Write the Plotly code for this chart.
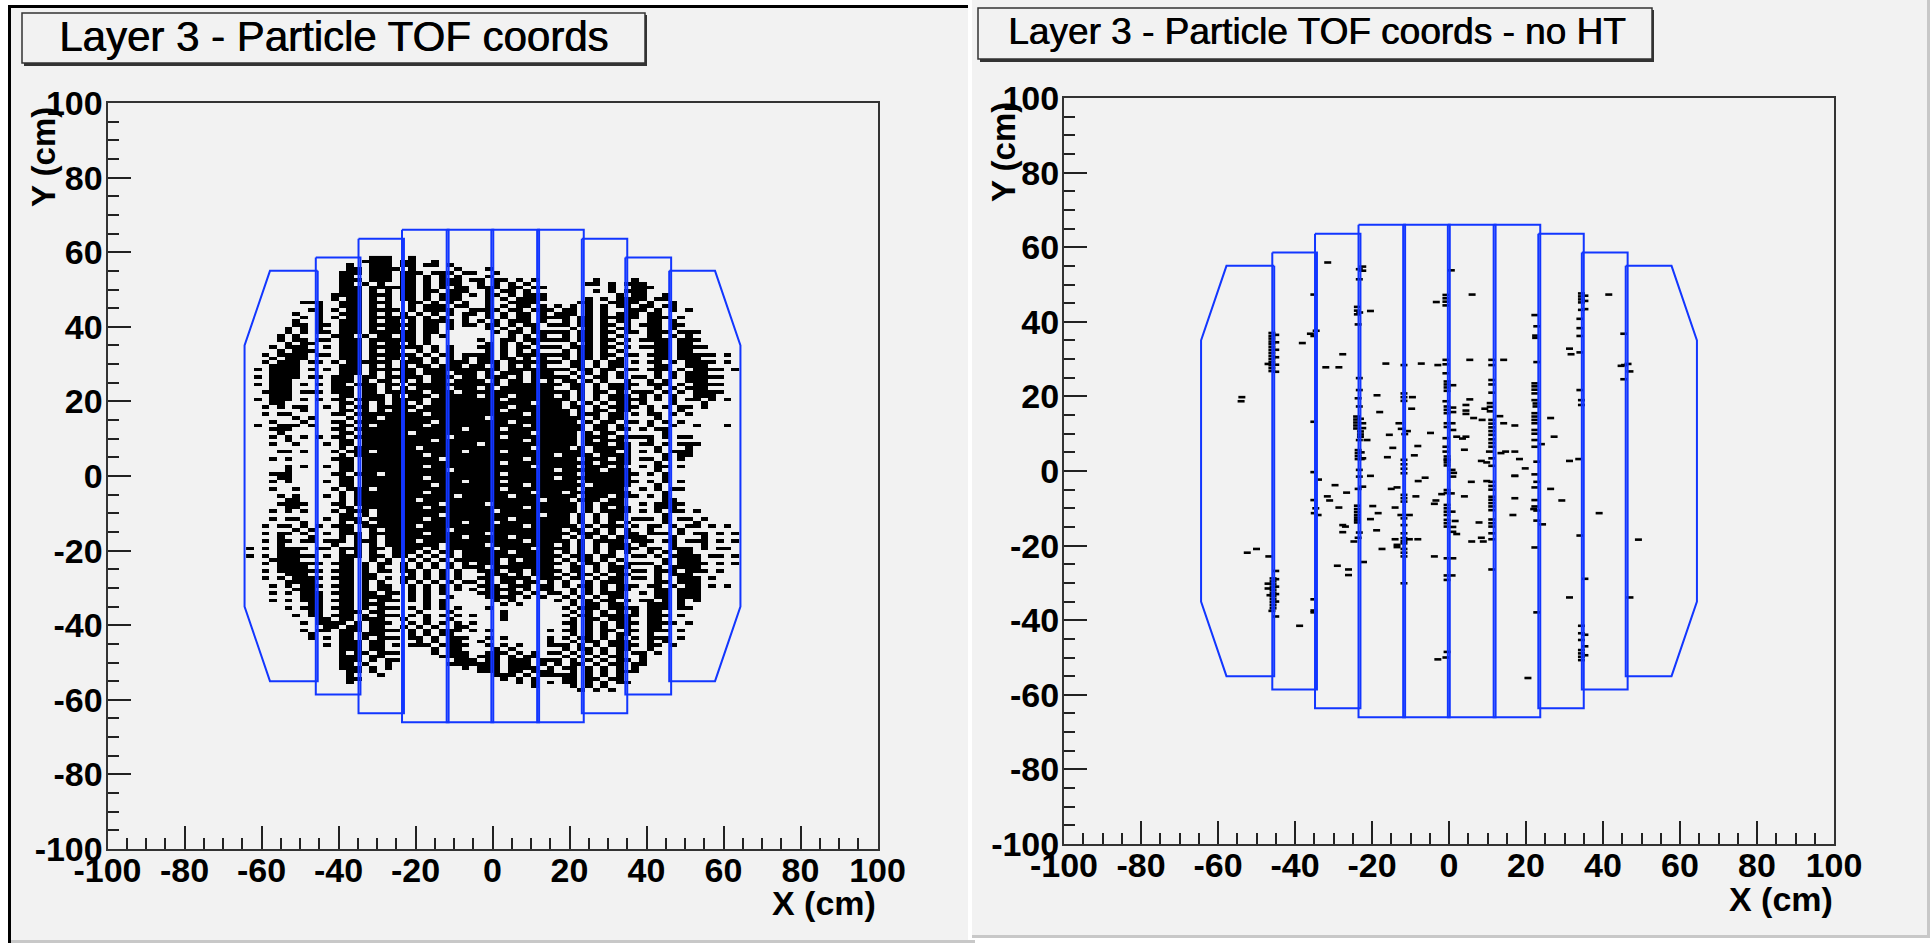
import plotly.graph_objects as go

W, H = 1930, 943

# ---- Data ----
tick_vals = [-100, -80, -60, -40, -20, 0, 20, 40, 60, 80, 100]
tick_text = ["-100", "-80", "-60", "-40", "-20", "0", "20", "40", "60", "80", "100"]
minor_vals = [v for v in range(-95, 100, 5) if v % 20 != 0]

paddle_xs = [
    [-45.4, -57.8, -64.4, -64.4, -57.8, -45.4, -45.4],
    [-45.9, -34.3, -34.3, -45.9, -45.9],
    [-34.8, -23.0, -23.0, -34.8, -34.8],
    [-23.5, -11.4, -11.4, -23.5, -23.5],
    [-11.9, 0.2, 0.2, -11.9, -11.9],
    [-0.3, 12.1, 12.1, -0.3, -0.3],
    [11.6, 23.7, 23.7, 11.6, 11.6],
    [23.2, 35.0, 35.0, 23.2, 23.2],
    [34.5, 46.4, 46.4, 34.5, 34.5],
    [45.9, 57.8, 64.4, 64.4, 57.8, 45.9, 45.9],
]
paddle_ys = [
    [55, 55, 35, -35, -55, -55, 55],
    [58.6, 58.6, -58.6, -58.6, 58.6],
    [63.6, 63.6, -63.6, -63.6, 63.6],
    [66, 66, -66, -66, 66],
    [66, 66, -66, -66, 66],
    [66, 66, -66, -66, 66],
    [66, 66, -66, -66, 66],
    [63.6, 63.6, -63.6, -63.6, 63.6],
    [58.6, 58.6, -58.6, -58.6, 58.6],
    [55, 55, 35, -35, -55, -55, 55],
]

# occupied 2 cm x 1 cm cells, left panel; first row is y = 58..59, next one lower; columns start at x = -64
occupancy_rows = [
".......... ......###. .#.",
".......... .....####. ##..#",
".......... ...#..###. ##.##.#",
".......... ...##.#### .#.....#.. .#",
".......... ..###.###. ###.###.## ..#",
".......... ..##..###. ##.#.#.#.. .#...",
".......... ..###.###. ##.#.###.# #.##.#.#.. .....#.... #",
".......... ..##.#.#.. ##.#.###.. #.#.#.#... ....##.#.# ##",
".......... ..###.#### ##.#.#.##. ###.##.##. .......#.. ###",
".......... ..###.#.#. ##.##.###. .#.##.#... .....#.#.# ##",
".......... .####.###. ##.#.###.# .##.#.###. ........#. ##..#",
".......... .#.##.#.#. ##.#.###.. .#.#.####. ....#.#.## ##.##",
".......### ..###.###. .##.#.#.#. .#..####.. ...##..### #.#..#",
".........# ..###.#.#. .#.###.##. .#.#.##.#. #.#.#.#.## .##.##",
"........## .#.##.#### .#.####..# ###.##.### .##.#.#..# ##.#.#.#",
"......#..# ..###.#.#. #.#.#.#.## .#.#.##.#. ###.#.#.## #.##..",
".......#.# .#.##.#### ##.#.#..#. .#.#.##.## ##.##.#### #.###.#.",
"......#..# ..###.#.## .#.####.#. #.#.###.#. .#.##.#.## ..##.#.",
"......##.# #.###.#### ##.##.#.## .##.#.##.# ##.##.##.# .###.##",
".....#.#.# ..###.#.## .#.##.#... .#.#.#.#.. ..#.#.#.## ..##.#..",
".....#.#.# #.###.#### ##.##..... ..#.##.### ##.##.##.# #.###.###",
"....#.#... .###.#.## .##.#.#.... ....#.#.#. .#.##.#.#. ..##.#.#",
"....#.##.# #.###.#### ##.#...... #..##.#### ##.##.##.# .####.###",
".....#.##. ..###.#.## .#.#...... .#.#.#.#.. ..#.#.#.#. ...##.##",
"...#.###.. #.###.#### ###.#.#... ##.#.##.## #.###.##.# .####.####",
"....#.###. ..###.#.## ..#.#.#... .#.#.#.#.. .#.##.#.#. ...##.##",
"..#.####.# #.###.#### ##.#.##.## ##.#.##### ##.##.##.# #.###.#####.#",
"...#.###.. ..###.#.## .##.#.#.#. ##.##.#.#. .#.##.#.#. ...##.###",
"..#.###.## .#.######. ###.#.###. ###.###### #.##.#.##. #.##.#.####.#",
"...####... ..###.#.#. #.##.###.# #.#.#.#.#. ..##.#.##. ...##..###",
".#.####.#. #.###.#### ##.####### ###.###### ##.##.##.# #.###.#.####.#",
"...####... ..###.#.#. ##.###.### .#.###.### ..#.#.#.#. ...#.#.###",
".#.####.## .###.##.## ###.###.## .###.#.### ##.#.##.#. ##.#.#.#####.",
"...###.... .###.#.##. #.#.##.### #.#.##.#.# .##.#.#..# ..#.#..###",
".#.###.#.# .##.###.## .######### ###.###### #.##.#.### #.###.#.####.",
"...###.... .###.##.#. #.####.### .#.####### ..##.#.### ...#.#.###",
"..####.### .###.##.## ###.###.## ########## ##.#.##.#. ###.#.#.####",
"...###.... ..##.###.# .###.##### .###.##### .#.#.#.### .#.#.#..###",
".#.###.#.# .##.####.# ###.###### ###.###### ##.#.#.### ##.#.#.##.#.#",
"...##..... ..##.#.#.# #.#.###### #######.## #.#.#.#.## .#...#...#",
"..#.#.##.. #.#.##.### ##.####### ####.##### #.##.#.### #.#.#.##.#",
".......#.. ..##.#.#.# #.######## ###.###### ##.#.##.## ..#...#",
"..#.##.... .##.###### ###.###### ######.### ##.###.##. #.##.#.#",
"......#.#. ...#.##.## ########## #.######## ####.#.##. ...#...",
"...#...#.. .##.###### ####.##### ####.##### ###.#.##.# #.#.#.#.",
".#..###.#. ..##.#.### ###.###### ######.### ####.##.#. ..#..#..#...#",
"...###.... .##.###### ########.# ###.###### ####.##.## .#.##.",
"....#..... ..##.##### #.######## #######.## ###.#.##.. ....#.",
"...#.#.#.# .##.###### ######.### ###.###### ###.###.## ###.#.##",
".....#.... ..##.##### ####.##### ######.### ###.#.###. ..#..",
"...#..#... #.##.##### ########## .######### ###.###.## .##.#.###",
".......... ..#.###### ##.####### #######.## ##.#.##### ...#...#",
"....##.#.. .#.###.### ########.# ###.###### ####.###.# .#.#.###",
".......... ..#.###### ###.###### ########## .####.#### ....#.##",
"...#.#.... .###.##### #####.#### ######.### ###.###.## .##.#.#",
".......... ..##.##### ########## ###.###### #####.#### ...#.",
".....#.#.. #.##.##### ###.###### #######.## ###.###.#. .#.##.#",
".....#.... ..##.##### ######.### ########## .#####.### ...#..",
"...###.... .##.###.## ########## ###.###### ###.###### #.#.#",
"....##.... ..##.##### ###.###### ########## .######### ....#",
"...#.#.... #.##.##### ########.# ###.###### ###.###### #.#.#.#",
".......... ..##.##### ####.##### ######.### ####.##### ...#..",
"...#..#... .#.###.### ########## ###.###### ###.#####. .#.#.##",
".......... ..#.###### ###.###### #######.## #.######## ....#",
"....#.#... #.#.###### #######.## ####.##### ###.###.## #.#.#.",
".....##... ..#.###### ##.####### ########.# ##.###.##. ....##",
"....####.. .##.###### #####.#### #.######## ###.#.###. .#.####",
".....##... ..##.##### ###.###### ######.### ###.#.#.## ...###",
"...#.#.#.. .#.###.### ########## ##.####### ###.#.#### .#.#.##.#",
".......... ..##.#.### #####.#### ########.# ##.#.#.##. ....#.",
"...#.##... #.###.#### ###.###### ####.##### ##.#.#.##. ###.#.##.#",
".......#.. ..#.##.### ########.# ##.####### ##.#.#.#.# ....#...#..",
"..#.##.#.# .###.##### ##.####### ######.### ###.#.###. #.##.#.##.#.#",
"......#.#. ..##..#.## ######.### ########## #.##.#.#.# ..#...#....",
"..#.##.#.. #.###.#### ###.###### #.######## ##.###.#.# #.###.#.##.#.#",
"....#...#. ..#.#.#.## ########.# ####.##### #.#.#.#.## ##...#...#..",
"..#.##.##. ###.###.## ##.####### ######.### ##.#.####. ###.##.###.#.#",
"....#..... .#..#.#.## #####.#### #.######## .#.#.#.### .#...#...#..",
"#.#.####.# #.###.##.# ###.#.#### ##.####.## ##.#.#.### #.##.###.#.##.#",
"....###... ..#.#.#..# ##.#.##.## ####.##### .#.#.#.#.# ..#.#.##...",
"#.#.#####. #.###.##.# #.#.#.#.## ########## #.###.##.. ##.#.####.##.#",
"...####... ..##..#.#. .#.#.#.### ###.#.#### .#.##.#.#. ....#.###..",
"..#.###### .###.#.##. #.#.#.#.#. ###.###### #.#.##.#.# ###.#.####.#.#",
"....####.. ..##.#.#.. #.#.#.#.## #.######## ..##.#.### ...#.####..",
"..#.###### .###.#.##. ##.#.#.#.. ###.##.### #.##.#.##. ##.###.###.#.",
".....###.. ..##.##... .#.#.#.#.. .###.#.### .#.##.#.## ...#.###..",
"..#.#.#### .###.##.#. ##.#.#.#.. ##.####.## #.##.#.##. ##.#..###.#.",
".....####. ..##.#.#.. #.#.#.#.## .#.##.##.# .#..#.###. ...##.###.",
"...#.#.### .###.#.##. .#.#.#.#.. ###.###.## .#.##.#.## #.##.#.##.#.#",
"......###. ..##.#.##. .#.#.#.#.# .####.#.## ..#.#.#.## ...##.###.",
"...#.#.### .###.##.## .#.#.#.... ###.##.#.# #.#.#.###. .#.##.###.",
".......### ..##.####. .#.#..#... .####.#.#. .#.#.#.##. ...##.###.",
"...#.#.### .###.#.### .#.#.#.... ..#.#..... #.#.#.##.# .##.#.#.#.",
"........## ..##.###.. ...#.#.... ...#.#.... ..#.##.##. ..###.#.",
".....#.### .###.#.### .#.#.#.#.. .#........ .#.###.### #.###.##.",
"........## ..###.##.. ..#...#... ...#...... ..#.#.#.#. #.##...",
"......#.## .###.#.### .#.#.#.#.# ...#...... .#.##.#### #.###.#.",
".........# #.##.###.. #..#..#... ...#...... ..#.##.### ..##.",
".......#.# ###.#.###. .#.#.#.#.# .......... .##.#.#.## #.####.#",
".......... ##.##.##.. #.#.#..##. .......... ..#.#.#.## ..##.",
".......#.# #.###.#### .#.#.###.# .#.......# .##.#.##.# #.###.#",
"........#. ..##.###.. .#.#.##... .......... ..#.#.#.## ..#.",
"........#. #.##.#.### .##.#.###. .#.#.....# .#.##.#.#. #.###.#.",
".......... ..###.##.. ..#.#.##.. #........# ..#.##.### ..#.#.",
".......... #.###.##.# .###.####. .#.#.#...# ##.#.#.### #.##.#.",
".......... ..###.##.. ....#.##.. ..#.#..... .#.##.#.## ..#",
".......... ..#.##.### ....#.###. .###.#.#.# #.#.#.#.#. ##.#.",
".......... ..###.##.. .....####. ###.#.##.. .#.#.#.##. .#",
".......... ..###.#.## .......### .##.###.## #.#.#.#.## .#.",
".......... ..##.#..#. ......#### ###.###.#. #.##.#.##. ##",
".......... ..###.#.#. ........#. ###.####.# .##.#.#.#. #.",
".......... ...##.#... .......... ###.##.### ..#.#.#.## #",
".......... ...#...#.. .......... ..###.#.## ###.#.#.#.",
".......... ...##..... .......... ...#.#.#.. .##.##.##.",
".......... ...#...... .......... .....#.#.# .##.#.#.##",
".......... .......... .......... .......#.. ..#.#.#.",
".......... .......... .......... .......... ...#.#.#",
]

# right panel hits (cm)
hits_x = [
-31.5,-23.3,-22.4,-22.4,-23.3,-35.1,-23.8,-23.8,-23.8,-23.2,-20.4,-23.6,-34.5,-36,-35.1,-38.1,
-46,-46,-46,-46,-46,-46,-46,-46,-46,-46,-46,-46,-46,-46,-45,-45,-45,-45,-45,-45,-47,-27.6,-32,-28.6,
-16.4,-11.7,-7.2,-2.9,-0.8,-0.8,-0.8,5.4,11.1,11.1,14.2,0.6,6,-0.8,-0.8,-0.8,-3.3,-0.8,22.3,22.8,22.5,22.5,22.8,
34.4,34.4,34.4,34.4,35.3,35.3,34.4,35.3,34,34,34,34,41.5,45.4,31.3,31.7,45.6,46.5,44.7,47,45.4,
-23.3,-23.3,-23.6,-23.3,-24,-24,-24,-24,-24,-23,-23,-23,-23,-22.4,-22.4,-21.3,-23.3,-23.6,-23.6,-23.6,-23.6,-22.8,-22.8,-22.4,-23.3,-23.3,
-18.7,-11.7,-11.7,-11.7,-9.5,-9.7,-18,-13,-12.4,-10.8,-11.5,-15.5,-4.8,-14.6,-8.1,-9,-16,-11.7,-11.7,-11.7,-11.7,
-0.5,-0.5,-0.5,-0.5,1,-0.8,-0.5,-0.5,-0.5,1,1,-0.5,0.8,-0.5,1,-0.8,-0.8,-0.8,-0.5,-0.5,-0.5,-0.5,-0.5,0.8,1.2,1,
5.4,4.4,4.4,4.4,9.3,6.4,8.6,2,3.5,4.4,4,8.4,9.8,
11.1,11.1,11.1,10.7,10.7,10.7,11.1,11.1,11.1,11.1,11.1,11.1,11.1,11.1,10.5,11.1,11.1,
13.2,14.2,17.1,13.5,14.7,17.1,18.3,19.8,17.1,
22.3,22.3,22.3,22.3,22.3,22.6,22.6,22.3,22.3,22.3,22.3,22.3,22.3,22.3,24,22.3,22.8,
26.4,27.3,31.3,33.7,34,34.4,34.4,-35.1,-35.1,-53.8,-54,
-33.9,-29.6,-26.6,-31.6,-31,-35.1,-34.6,-35,-34,-28.6,-20.4,-22.4,-23.6,-23.8,-23.8,-23.8,-23.8,-23.8,-23.8,-23.8,-19.8,-18.4,-20.4,-18.8,
-27.6,-26.9,-27.6,-23.3,-23.6,-24.7,-17.4,-22.2,-29,-26.1,-26.1,-15,-13.5,-8,-6.2,
-11.7,-11.7,-11.7,-8.6,-14,-12.5,-10.3,-11.7,-11.7,-11.7,-14,-11.7,-11.7,-8.1,-10.3,-13.5,-13.5,-11.7,-11.7,-11.7,-11.7,-11.7,-3.8,
-0.5,-0.5,0.6,-1.9,-3.4,-3.8,-0.5,-0.5,-0.5,-0.5,0.8,-0.5,-0.5,-0.5,1.6,1,1,2,-0.5,1,-0.5,-0.5,0.8,-0.5,-0.8,-2.9,
11.1,11.1,11.1,11.1,11.1,11.1,11.1,11.1,11.1,11.1,11.1,11.1,11.1,11.1,4,5.8,9.8,7.8,8.4,5.9,8.9,17.1,17.1,16.6,
22.3,22.8,22.3,22.3,22.3,22,22.8,22.8,22.3,22.8,24.3,26.4,29.3,39,34,35.3,31.3,47,49.2,
34.4,34.4,35.3,34.4,35.3,34.4,34.4,34.4,34.4,35.3,20.5,-38.8,-35.1,-35.1,-35.1,
-45.7,-45.7,-45.7,-45.7,-45.7,-45.7,-45.7,-45.7,-45.7,-45.7,-45.7,-45,-45,-45,-45,-47,-47,-46.5,-46,-45,-45,-46.8,-50,-52.4,
]
hits_y = [
55.9,54.1,54.8,53.7,51.4,47.3,44,43,42,42.5,42.9,39.3,37.6,36.8,36.2,34.3,
37,36.2,35.5,34.7,34,33.2,32.4,31.6,30.8,30,29.2,28.4,27.6,26.8,36.5,34.5,32.5,30.5,28.5,26.6,28.7,31.3,27.8,27.8,
28.8,28.4,28.8,28.4,28.6,29.8,26.2,29.8,29.8,28.4,29.8,53.8,47.3,47.2,46.3,45.4,45.3,44.4,41.8,38.8,36.3,35.7,29.2,
47.6,46.8,46,45.2,47,45.6,43.2,43.4,40.8,38.3,36.2,31.8,47.3,36.8,32.8,31.3,28.4,28.7,28.2,26.7,24.6,
24.9,21.7,19.5,17.3,14.6,13.8,13,12.2,11.4,10.6,9.8,9.2,14,12.8,11.5,8.3,8.3,5.6,4.8,4,3.2,5,3.2,3.4,0.3,-1.5,
20.3,20.8,19.8,18.8,19.8,16.7,15.8,12.8,11.3,10.7,9.9,9.7,10.2,6.2,6.7,4.2,3.7,3,1.8,0.6,-0.6,
24,23.2,22.4,21.5,23,18.7,17.3,16.4,15.5,17,15.8,12.8,12.8,11.8,11,8.8,6.5,5.2,3.9,3.1,2.3,1.5,3,0.3,-0.5,-1.5,
19.2,17.7,16.2,15.3,16.7,14.2,13.7,9.2,8.7,9.2,5.7,2.7,2.3,
24.4,23.2,21,18.2,17.2,16,13.7,12.7,11.7,10.7,9.7,8.5,7.5,6.5,5.2,3.4,1.4,
14.7,12.8,12.2,4.8,5.2,5.2,3.2,0.7,-1.3,
23.5,22.7,21.8,20.8,19,18.1,17.3,15.5,14.6,13.7,12.8,11,10,8.3,7.2,6.5,2.5,
14.2,9.2,2.7,3.2,21.7,19,17.7,13.2,-0.3,19.8,18.7,
-2.3,-3.8,-5.8,-6.8,-7.9,-7.8,-10,-11.3,-11.8,-9.8,-1.3,-4.2,-4.8,-9.3,-10.2,-11,-11.8,-12.5,-13.2,-13.8,-9.4,-11.3,-12.9,-15.9,
-14.5,-14.9,-16.4,-16.5,-17.9,-18.9,-20.9,-24.4,-25.4,-26.4,-27.9,-4.8,-4.4,-2.7,-1.8,
-6.4,-7.3,-8.2,-6.8,-9.8,-11.8,-11.8,-12.7,-14.5,-16.7,-18.3,-18,-18.8,-18.3,-18.3,-19.8,-20.4,-19.4,-20.9,-21.9,-22.9,-30.1,-22.9,
-5.1,-5.9,-6,-6.2,-7.9,-8.8,-9.1,-10,-10.9,-11.8,-10.9,-13.1,-14,-14.9,-13.4,-15,-16.3,-16.9,-23.4,-23.4,-28,-29.2,-28,-48.5,-50,-50.5,
-2.9,-4,-5,-6.9,-7.7,-8.6,-9.5,-10.5,-13,-14,-14.9,-16.7,-18.3,-26.4,-6.8,-2.9,-2.7,-13.8,-17.9,-18.9,-18.9,-1.3,-7.3,-11.8,
-0.9,-2.9,-4.4,-7.8,-9.5,-10.2,-10.6,-13.3,-20.5,-37.9,-14.3,-4.8,-7.9,-11.3,-17.3,-28.9,-33.9,-33.9,-18.4,
-41.5,-43.5,-43.9,-45.3,-47,-48,-48.9,-49.8,-50.7,-49.4,-55.5,-41.5,-34.4,-37.4,-37.9,
-28.8,-29.6,-30.4,-31.2,-32,-32.8,-33.6,-34.4,-35.2,-36,-36.8,-29,-31,-33,-35,-30.2,-31.5,-33.3,-37.5,-26.8,-39,-22.9,-20.9,-21.9,
]

# ---- Build figure ----
def px(x): return x / W
def py(y): return 1 - y / H

z_rows, y_rows = [], []
for i, row in enumerate(occupancy_rows):
    cells = row.replace(" ", "").ljust(64, ".")[:64]
    z_rows.append([1 if c == "#" else 0 for c in cells])
    y_rows.append(58.5 - i)
z_rows.reverse()
y_rows.reverse()
x_cols = [-63 + 2 * c for c in range(64)]

FONT = "Liberation Sans"
BG = "#f2f2f2"
BLUE = "#1236ff"

fig = go.Figure()
fig.add_trace(go.Heatmap(x=x_cols, y=y_rows, z=z_rows, xaxis="x", yaxis="y", showscale=False, zmin=0, zmax=1,
                         colorscale=[[0, "rgba(0,0,0,0)"], [1, "#000000"]], hoverinfo="skip"))
n_hits = min(len(hits_x), len(hits_y))
fig.add_trace(go.Scatter(x=hits_x[:n_hits], y=hits_y[:n_hits], mode="markers", xaxis="x2", yaxis="y2",
                         showlegend=False, hoverinfo="skip",
                         marker=dict(symbol="line-ew", size=5, line=dict(color="#000000", width=2.6))))
for ax in (("x", "y"), ("x2", "y2")):
    for xs, ys in zip(paddle_xs, paddle_ys):
        fig.add_trace(go.Scatter(x=xs, y=ys, mode="lines", xaxis=ax[0], yaxis=ax[1], showlegend=False,
                                 hoverinfo="skip", line=dict(color=BLUE, width=2)))

def axis_style(domain, anchor, standoff):
    return dict(domain=domain, anchor=anchor, range=[-100, 100], showgrid=False, zeroline=False,
                mirror=True, showline=True, linecolor="#333333", linewidth=2,
                tickmode="array", tickvals=tick_vals, ticktext=tick_text, ticklabelstandoff=standoff,
                ticks="inside", ticklen=23, tickwidth=1.5, tickcolor="#222222",
                tickfont=dict(family=FONT, size=34, color="#000000", weight=700),
                minor=dict(ticks="inside", ticklen=11, tickwidth=1.5, tickcolor="#222222",
                           tickmode="array", tickvals=minor_vals, showgrid=False))

panels = [
    dict(l=107.5, r=877.5, t=103, b=849, xa="xaxis", ya="yaxis", x="x", y="y"),
    dict(l=1064, r=1834, t=98, b=844, xa="xaxis2", ya="yaxis2", x="x2", y="y2"),
]
layout = dict(width=W, height=H, margin=dict(l=0, r=0, t=0, b=0, autoexpand=False), paper_bgcolor="#ffffff",
              plot_bgcolor="rgba(0,0,0,0)", showlegend=False)
for p in panels:
    layout[p["xa"]] = axis_style([px(p["l"]), px(p["r"])], p["y"], -10)
    layout[p["ya"]] = axis_style([py(p["b"]), py(p["t"])], p["x"], -4)
fig.update_layout(**layout)

def rect(x0, y0, x1, y1, fill, line=None, lw=0):
    fig.add_shape(type="rect", xref="paper", yref="paper", x0=px(x0), x1=px(x1), y0=py(y0), y1=py(y1),
                  fillcolor=fill, line=dict(color=line or fill, width=lw), layer="below")

rect(11, 8, 968, 940, BG)
rect(8, 5, 11, 943, "#000000")
rect(8, 5, 968, 8, "#000000")
rect(11, 940, 975, 943, "#c8c8c8")
rect(972, 0, 1927, 935, BG)
rect(972, 935, 1927, 938, "#c8c8c8")
rect(1927, 0, 1930, 938, "#c8c8c8")

rect(24, 15, 647, 66, "#333333")
rect(22, 13, 645, 63, BG, "#333333", 1.5)
rect(980, 10, 1654, 62, "#333333")
rect(978, 8, 1652, 59, BG, "#333333", 1.5)

def text(s, x, y, size, xa="left", ya="middle", angle=0, weight=500, shadow="none"):
    fig.add_annotation(text=s, xref="paper", yref="paper", x=px(x), y=py(y), xanchor=xa, yanchor=ya,
                       showarrow=False, textangle=angle,
                       font=dict(family=FONT, size=size, color="#000000", weight=weight, shadow=shadow))

BOLDEN = "0.7px 0 0 #000000"
text("Layer 3 - Particle TOF coords", 57, 37, 42, shadow=BOLDEN)
text("Layer 3 - Particle TOF coords - no HT", 1006, 32, 37, shadow=BOLDEN)
text("X (cm)", 878, 903, 34, "right", weight=700)
text("X (cm)", 1835, 899, 34, "right", weight=700)
text("Y (cm)", 44, 105, 33, "center", "top", -90, 700)
text("Y (cm)", 1003, 100, 33, "center", "top", -90, 700)

fig.write_html("out.html", config=dict(displayModeBar=False),
               post_script="document.body.style.margin='0';document.body.style.overflow='hidden';")
